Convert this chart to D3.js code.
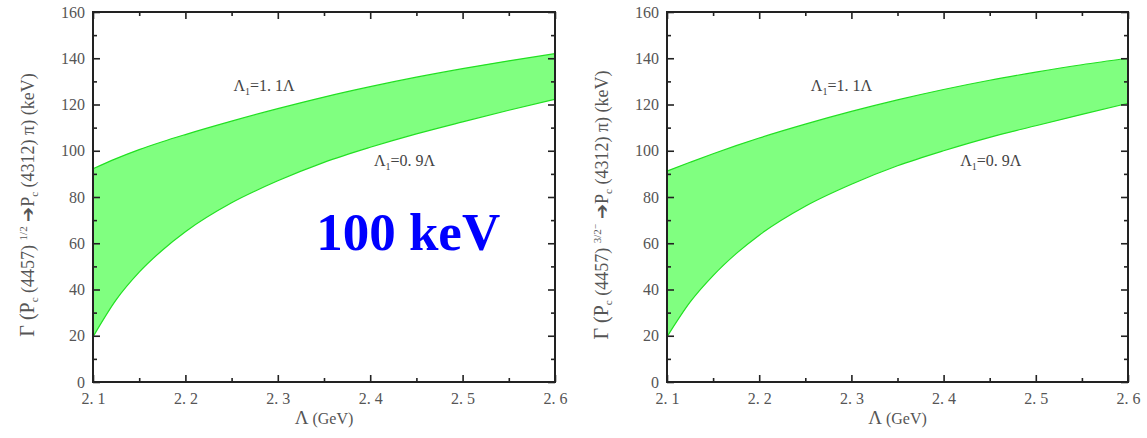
<!DOCTYPE html>
<html><head><meta charset="utf-8">
<script src="https://cdn.jsdelivr.net/npm/d3@7"></script>
<style>body{margin:0;background:#fff}svg{display:block}
text{font-family:"Liberation Serif","Times New Roman","DejaVu Serif",serif}</style>
</head><body>
<svg id="c" width="1147" height="438"></svg>
<script>
const lambdaL = [2.1, 2.125, 2.15, 2.175, 2.2, 2.25, 2.3, 2.35, 2.4, 2.45, 2.5, 2.55, 2.6];
const leftUpper  = [92.2, 96.6, 100.5, 103.9, 107.0, 112.8, 118.2, 123.2, 127.7, 131.8, 135.5, 138.9, 142];
const leftLower  = [19.5, 35.5, 47.5, 57, 65, 77.5, 87, 95, 101.5, 107.3, 112.5, 117.5, 122.3];
const rightUpper = [91.2, 95, 98.7, 102.2, 105.5, 111.5, 117, 122, 126.5, 130.5, 134, 137.2, 140];
const rightLower = [19.5, 34.5, 46, 55.5, 63.5, 76, 85.5, 93.5, 100, 105.8, 110.8, 115.7, 120.5];
const xTicks = [2.1, 2.2, 2.3, 2.4, 2.5, 2.6];
const xTickLabels = ["2. 1", "2. 2", "2. 3", "2. 4", "2. 5", "2. 6"];
const yTicks = [0, 20, 40, 60, 80, 100, 120, 140, 160];
const upperLabel = {x: 2.252, y: 126};
const lowerLabel = {x: 2.404, y: 93.5};
const upperLabelR = {x: 2.256, y: 126};
const lowerLabelR = {x: 2.418, y: 93.5};

const svg = d3.select("#c");

function panel(x0, x1, upper, lower, spin, lab1, lab2, showBig) {
  const y0 = 12, y1 = 382;
  const x = d3.scaleLinear().domain([2.1, 2.6]).range([x0, x1]);
  const y = d3.scaleLinear().domain([0, 160]).range([y1, y0]);
  const g = svg.append("g");
  const pts = lambdaL.map((l, i) => ({l, u: upper[i], d: lower[i]}));
  const area = d3.area().x(d => x(d.l)).y0(d => y(d.d)).y1(d => y(d.u)).curve(d3.curveMonotoneX);
  g.append("path").datum(pts).attr("d", area).attr("fill", "#80ff80");
  const lineU = d3.line().x(d => x(d.l)).y(d => y(d.u)).curve(d3.curveMonotoneX);
  const lineD = d3.line().x(d => x(d.l)).y(d => y(d.d)).curve(d3.curveMonotoneX);
  g.append("path").datum(pts).attr("d", lineU).attr("fill", "none").attr("stroke", "#22e022").attr("stroke-width", 1.2);
  g.append("path").datum(pts).attr("d", lineD).attr("fill", "none").attr("stroke", "#22e022").attr("stroke-width", 1.2);

  const minorX = d3.range(2.15, 2.6, 0.1);
  const minorY = d3.range(10, 160, 20);
  const ax = (axis, tr) => g.append("g").attr("transform", tr).call(axis)
      .call(s => s.select(".domain").remove()).attr("font-family", null);
  ax(d3.axisBottom(x).tickValues(xTicks).tickSize(-7).tickFormat((d, i) => xTickLabels[i]).tickPadding(11), `translate(0,${y1})`);
  ax(d3.axisBottom(x).tickValues(minorX).tickSize(-4).tickFormat(""), `translate(0,${y1})`);
  ax(d3.axisTop(x).tickValues(xTicks).tickSize(-7).tickFormat(""), `translate(0,${y0})`);
  ax(d3.axisTop(x).tickValues(minorX).tickSize(-4).tickFormat(""), `translate(0,${y0})`);
  ax(d3.axisLeft(y).tickValues(yTicks).tickSize(-7).tickPadding(8), `translate(${x0},0)`);
  ax(d3.axisLeft(y).tickValues(minorY).tickSize(-4).tickFormat(""), `translate(${x0},0)`);
  ax(d3.axisRight(y).tickValues(yTicks).tickSize(-7).tickFormat(""), `translate(${x1},0)`);
  ax(d3.axisRight(y).tickValues(minorY).tickSize(-4).tickFormat(""), `translate(${x1},0)`);
  g.selectAll(".tick line").attr("stroke", "#222").attr("stroke-width", 1.6);
  g.selectAll(".tick text").attr("font-size", 16).attr("fill", "#555");
  g.append("rect").attr("x", x0).attr("y", y0).attr("width", x1 - x0).attr("height", y1 - y0)
    .attr("fill", "none").attr("stroke", "#222").attr("stroke-width", 2);

  const xl = g.append("text").attr("x", (x0 + x1) / 2).attr("y", 424).attr("text-anchor", "middle")
    .attr("font-size", 16).attr("fill", "#555");
  xl.append("tspan").text("Λ").attr("font-size", 19);
  xl.append("tspan").text(" (GeV)");

  const yl = g.append("text").attr("transform", `translate(${x0 - 59},${(y0 + y1) / 2 + 8}) rotate(-90)`)
    .attr("text-anchor", "middle").attr("font-size", 18).attr("fill", "#555");
  yl.append("tspan").text("Γ (P").attr("font-size", 20);
  yl.append("tspan").text("c").attr("font-size", 11).attr("dy", 4);
  yl.append("tspan").text(" (4457) ").attr("dy", -4);
  yl.append("tspan").text(spin).attr("font-size", 11).attr("dy", -7);
  yl.append("tspan").text(" ➔P").attr("dy", 7);
  yl.append("tspan").text("c").attr("font-size", 11).attr("dy", 4);
  yl.append("tspan").text(" (4312) π) (keV)").attr("dy", -4);

  const lbl = (p, b) => {
    const t = g.append("text").attr("x", x(p.x)).attr("y", y(p.y))
      .attr("font-size", 16).attr("fill", "#444");
    t.append("tspan").text("Λ");
    t.append("tspan").text("1").attr("font-size", 10).attr("dy", 4);
    t.append("tspan").text(b).attr("dy", -4);
  };
  lbl(lab1, "=1. 1Λ");
  lbl(lab2, "=0. 9Λ");

  if (showBig) {
    g.append("text").attr("x", x(2.3415)).attr("y", 250)
      .attr("font-weight", "bold").attr("font-size", 53).attr("fill", "#0000ff").text("100 keV");
  }
}

panel(93, 555, leftUpper, leftLower, "1/2", upperLabel, lowerLabel, true);
panel(667, 1128, rightUpper, rightLower, "3/2⁻", upperLabelR, lowerLabelR, false);
</script>
</body></html>
